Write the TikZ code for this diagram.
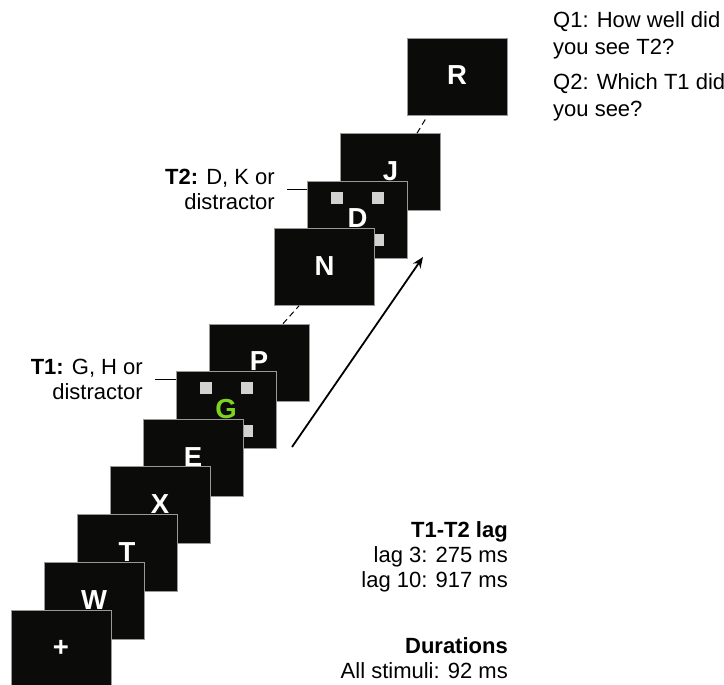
\documentclass[tikz,border=0pt]{standalone}
\usepackage{fontspec}
\setmainfont{Liberation Sans}
\usetikzlibrary{arrows.meta, positioning, calc}
\definecolor{screen}{HTML}{0B0B0A}
\definecolor{maskgray}{HTML}{D2D2D0}
\definecolor{targetgreen}{HTML}{7DD322}

\begin{document}
\begin{tikzpicture}[x=1pt, y=1pt,
    frame/.style={draw=black!40, line width=0.6pt, fill=screen, minimum width=100pt,
        minimum height=77pt, inner sep=0pt, text=white, text height=20pt, text depth=3pt,
        font=\bfseries\fontsize{27.5}{27.5}\selectfont},
    mask/.style={fill=maskgray, minimum size=12pt, inner sep=0pt},
    label/.style={align=right, inner sep=0pt, font=\fontsize{22}{25}\selectfont},
    question/.style={align=left, inner sep=0pt, font=\fontsize{22}{27}\selectfont}]
    \useasboundingbox (0,0) rectangle (724,685);

    \node[frame] (R) at (457,608.5) {R};
    \node[frame] (J) at (390.5,513) {J};
    \node[frame] (D) at (357.5,465.5) {D};
    \foreach \sx/\sy in {-20.5/21, 20.5/21, 20.5/-21, -20.5/-21}
        \node[mask] at ($(D)+(\sx,\sy)$) {};
    \node[frame] (N) at (324.5,418) {N};
    \node[frame] (P) at (259,322.5) {P};
    \node[frame, text=targetgreen] (G) at (226,275) {G};
    \foreach \sx/\sy in {-20.5/21.5, 20.5/21.5, 20.5/-21.5, -20.5/-21.5}
        \node[mask] at ($(G)+(\sx,\sy)$) {};
    \node[frame] (E) at (193,227) {E};
    \node[frame] (X) at (160,180) {X};
    \node[frame] (T) at (127,132) {T};
    \node[frame] (W) at (94,84) {W};
    \node[frame] (plus) at (61,36.5) {+};

    \node[label, anchor=base east] (t1) at (143,285) {\textbf{T1:} G, H or\\distractor};
    \node[label, anchor=base east] (t2) at (275,475) {\textbf{T2:} D, K or\\distractor};
    \node[label, anchor=base east] (lag) at (508,97) {\textbf{T1-T2 lag}\\lag 3: 275 ms\\lag 10: 917 ms};
    \node[label, anchor=base east] (dur) at (508,6) {\textbf{Durations}\\All stimuli: 92 ms};
    \node[question, anchor=base west] (q1) at (553,630) {Q1: How well did\\you see T2?};
    \node[question, anchor=base west] (q2) at (553,568) {Q2: Which T1 did\\you see?};

    \coordinate (lagstart) at (292,238);
    \coordinate (lagend) at (423,428);

    \draw[line width=1pt] (t1.east) ++(12,0) coordinate (t1line) -- (t1line -| G.west);
    \draw[line width=1pt] (t2.east) ++(12,0) coordinate (t2line) -- (t2line -| D.west);
    \draw[line width=1pt, dash pattern=on 6pt off 4pt] ([xshift=24pt]P.north) -- ([xshift=-25.5pt]N.south);
    \draw[line width=1pt, dash pattern=on 6pt off 4pt] ([xshift=26.5pt]J.north) -- ([xshift=-31pt,yshift=-3pt]R.south);
    \draw[line width=1.8pt, -{Stealth[length=11pt, width=9pt]}] (lagstart) -- (lagend);
\end{tikzpicture}
\end{document}
